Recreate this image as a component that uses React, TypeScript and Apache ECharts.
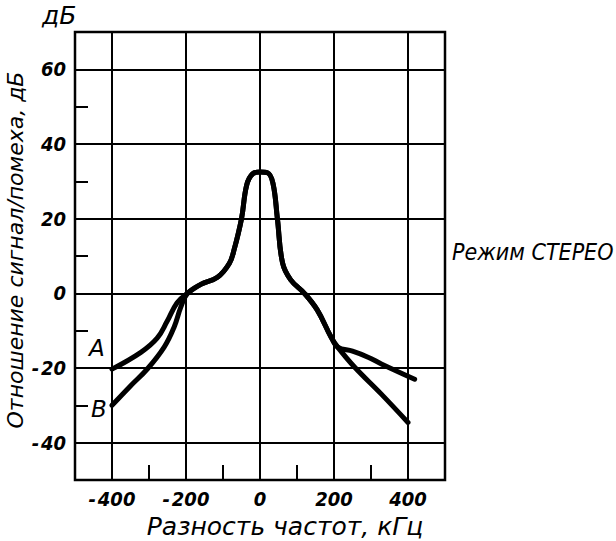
import React, { useEffect, useRef } from "react";
import * as echarts from "echarts";

const xGridValues = [-400, -200, 0, 200, 400];
const yGridValues = [-40, -20, 0, 20, 40, 60];
const leftTailFreqA = [-400, -322, -278, -251, -224];
const leftTailValA = [-20.3, -15.8, -12, -7.5, -2.5];
const leftTailFreqB = [-400, -352, -304, -259, -232, -214];
const leftTailValB = [-30, -25, -20.2, -14.4, -9, -3.7];
const coreFreq = [-196, -160, -115, -83, -70, -50, -36, -20, 0, 20, 35, 47, 61, 83, 120, 155, 192, 210];
const coreVal = [0, 2.4, 4.3, 8, 11.7, 20, 29, 32, 32.5, 32.3, 29.5, 20, 8.1, 3.6, 0, -4.5, -11.7, -14.4];
const rightTailFreqA = [250, 292, 328, 418];
const rightTailValA = [-15.5, -17.1, -18.9, -23];
const rightTailFreqB = [256, 328, 400];
const rightTailValB = [-19.8, -27, -34.6];

const FONT = "DejaVu Sans";
const FONT_C = "DejaVu Sans Condensed";
const INK = "#000";

function pairs(xs: number[], ys: number[]) {
  return xs.map((x, i) => [x, ys[i]]);
}

function fmt(v: number) {
  return v < 0 ? "-\u200A" + Math.abs(v) : String(v);
}

export default function App() {
  const ref = useRef<HTMLDivElement>(null);
  useEffect(() => {
    if (!ref.current) return;
    const chart = echarts.init(ref.current, undefined, { renderer: "svg" });
    const dataA = [
      ...pairs(leftTailFreqA, leftTailValA),
      ...pairs(coreFreq, coreVal),
      ...pairs(rightTailFreqA, rightTailValA),
    ];
    const dataB = [
      ...pairs(leftTailFreqB, leftTailValB),
      ...pairs(coreFreq, coreVal),
      ...pairs(rightTailFreqB, rightTailValB),
    ];
    const gridLineStyle = { color: INK, width: 2, type: "solid" as const };
    const curveStyle = { color: INK, width: 5, cap: "round" as const, join: "round" as const };
    const tickLabel = {
      show: true,
      fontFamily: FONT_C,
      fontStyle: "italic",
      fontWeight: "bold",
      fontSize: 20,
      color: INK,
    };
    chart.setOption({
      animation: false,
      backgroundColor: "#fff",
      grid: {
        left: 75,
        top: 32,
        width: 370,
        height: 448,
        containLabel: false,
        outerBoundsMode: "none",
        show: true,
        borderColor: INK,
        borderWidth: 2.5,
        backgroundColor: "transparent",
      },
      xAxis: {
        type: "value",
        min: -500,
        max: 500,
        interval: 100,
        axisLine: { show: false, onZero: false },
        splitLine: { show: false },
        axisTick: { show: true, inside: true, length: 15, lineStyle: { color: INK, width: 2 } },
        axisLabel: {
          ...tickLabel,
          margin: 9,
          formatter: (v: number) => (xGridValues.includes(v) ? fmt(v) : ""),
        },
        name: "Разность частот, кГц",
        nameLocation: "middle",
        nameGap: 33,
        nameTextStyle: {
          fontFamily: FONT,
          fontStyle: "italic",
          fontSize: 25,
          color: INK,
          padding: [0, 0, 0, 50],
        },
      },
      yAxis: {
        type: "value",
        min: -50,
        max: 70,
        interval: 10,
        axisLine: { show: false, onZero: false },
        splitLine: { show: false },
        axisTick: { show: true, inside: true, length: 13, lineStyle: { color: INK, width: 2 } },
        axisLabel: {
          ...tickLabel,
          margin: 9,
          formatter: (v: number) => (yGridValues.includes(v) ? fmt(v) : ""),
        },
      },
      series: [
        {
          name: "grid",
          type: "line",
          data: [],
          z: 1,
          silent: true,
          markLine: {
            silent: true,
            symbol: "none",
            label: { show: false },
            lineStyle: gridLineStyle,
            data: [
              ...xGridValues.map((v) => ({ xAxis: v })),
              ...yGridValues.map((v) => ({ yAxis: v })),
            ],
          },
        },
        {
          name: "A",
          type: "line",
          data: dataA,
          smooth: 0.4,
          showSymbol: false,
          z: 3,
          lineStyle: curveStyle,
        },
        {
          name: "B",
          type: "line",
          data: dataB,
          smooth: 0.4,
          showSymbol: false,
          z: 3,
          lineStyle: curveStyle,
        },
      ],
      graphic: [
        {
          type: "text",
          x: 15,
          y: 250,
          rotation: Math.PI / 2,
          style: {
            text: "Отношение сигнал/помеха, дБ",
            fontFamily: FONT,
            fontStyle: "italic",
            fontSize: 22,
            fill: INK,
            align: "center",
            verticalAlign: "middle",
          },
        },
        {
          type: "text",
          left: 42,
          top: 3,
          style: { text: "дБ", fontFamily: FONT, fontStyle: "italic", fontSize: 25, fill: INK },
        },
        {
          type: "text",
          left: 452,
          top: 240,
          style: { text: "Режим СТЕРЕО", fontFamily: FONT_C, fontStyle: "italic", fontSize: 23, fill: INK },
        },
        {
          type: "text",
          left: 89,
          top: 336,
          style: { text: "A", fontFamily: FONT, fontStyle: "italic", fontSize: 23, fill: INK },
        },
        {
          type: "text",
          left: 91,
          top: 397,
          style: { text: "B", fontFamily: FONT, fontStyle: "italic", fontSize: 23, fill: INK },
        },
      ],
    });
    return () => chart.dispose();
  }, []);
  return <div ref={ref} style={{ width: 616, height: 541, position: "fixed", left: 0, top: 0 }} />;
}
